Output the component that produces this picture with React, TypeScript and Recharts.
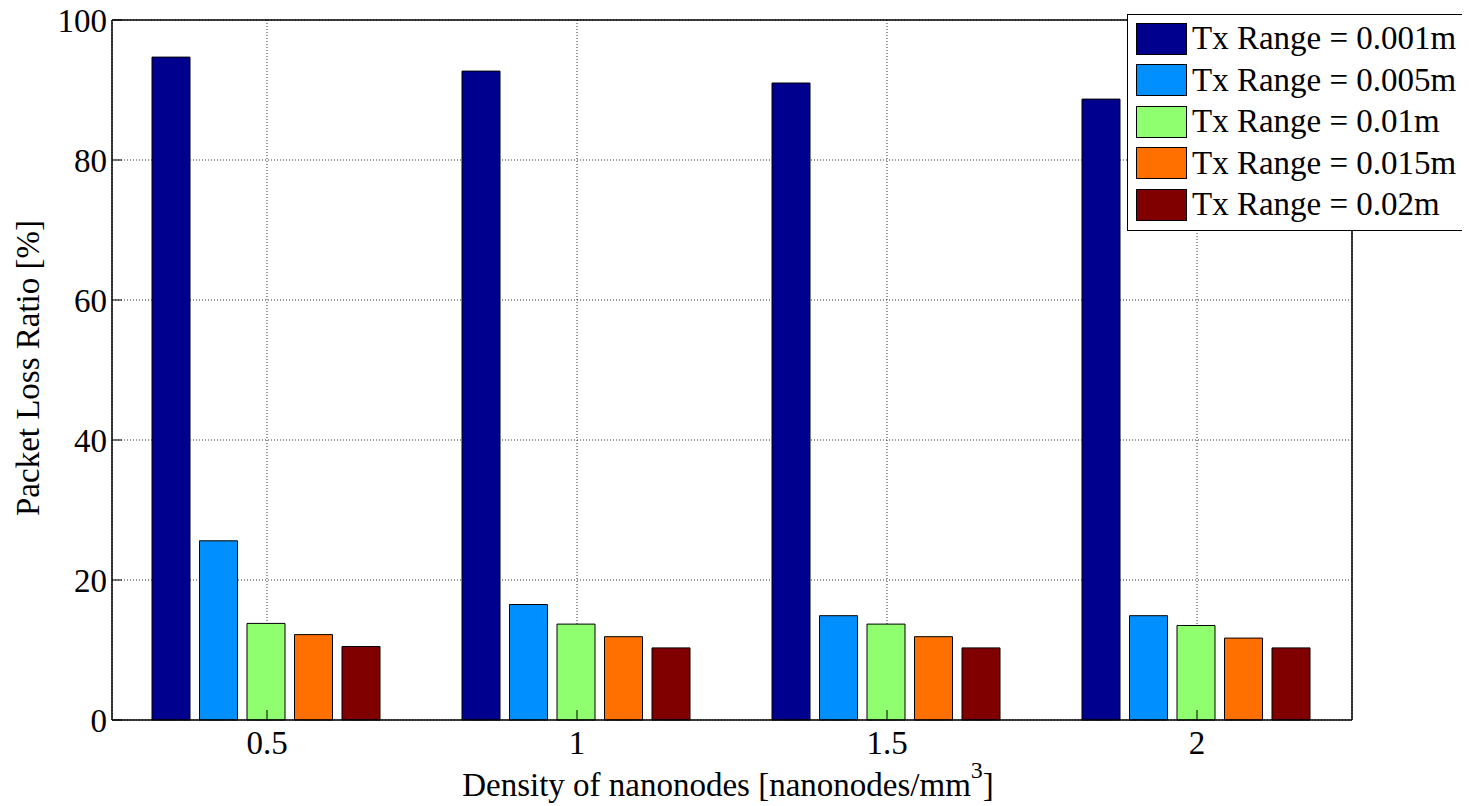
import React from 'react';
import { BarChart, Bar, XAxis, YAxis, CartesianGrid } from 'recharts';

const categories = ['0.5', '1', '1.5', '2'];
const tx001 = [94.7, 92.7, 91.0, 88.7];
const tx005 = [25.6, 16.5, 14.9, 14.9];
const tx01 = [13.8, 13.7, 13.7, 13.5];
const tx015 = [12.2, 11.9, 11.9, 11.7];
const tx02 = [10.5, 10.3, 10.3, 10.3];
const yTicks = [0, 20, 40, 60, 80, 100];

const seriesNames = [
  'Tx Range = 0.001m',
  'Tx Range = 0.005m',
  'Tx Range = 0.01m',
  'Tx Range = 0.015m',
  'Tx Range = 0.02m',
];
const seriesKeys = ['s0', 's1', 's2', 's3', 's4'];
const seriesColors = ['#00008F', '#008FFF', '#8FFF70', '#FF7000', '#800000'];
const seriesValues = [tx001, tx005, tx01, tx015, tx02];

const data = categories.map((c, i) => {
  const row: Record<string, string | number> = { x: c };
  seriesKeys.forEach((k, j) => {
    row[k] = seriesValues[j][i];
  });
  return row;
});

const FONT = 'Liberation Serif, LiberationSerif, DejaVu Serif, Noto Serif, serif';
const tickStyle = { fontSize: 33, fill: '#000', fontFamily: FONT };

const YLabel = (props: any) => {
  const vb = props.viewBox || { x: 0, y: 20, width: 104, height: 700 };
  const cx = 31;
  const cy = vb.y + vb.height / 2 - 2;
  return (
    <text
      x={cx}
      y={cy}
      transform={`rotate(-90, ${cx}, ${cy})`}
      textAnchor="middle"
      fontSize={33}
      fontFamily={FONT}
      fill="#000"
    >
      Packet Loss Ratio [%]
    </text>
  );
};

const XLabel = (props: any) => {
  const vb = props.viewBox || { x: 104, y: 720, width: 1240, height: 86 };
  const cx = vb.x + vb.width / 2 - 4;
  const y = vb.y + 76;
  return (
    <text x={cx} y={y} textAnchor="middle" fontSize={33} fontFamily={FONT} fill="#000">
      Density of nanonodes [nanonodes/mm
      <tspan fontSize={24} dy={-18}>3</tspan>
      <tspan dy={18}>]</tspan>
    </text>
  );
};

export default function App() {
  return (
    <div style={{ position: 'relative', width: 1462, height: 806, background: '#fff', marginTop: -8 }}>
      <BarChart
        width={1462}
        height={806}
        data={data}
        margin={{ top: 19, right: 117, bottom: 0, left: 0 }}
        barCategoryGap={40}
        barGap={9.5}
        style={{ fontFamily: FONT }}
      >
        <CartesianGrid stroke="#333" strokeDasharray="1 2" strokeWidth={1} />
        <XAxis
          dataKey="x"
          type="category"
          height={86}
          axisLine={{ stroke: '#000', strokeWidth: 1.5 }}
          tickLine={{ stroke: '#000', strokeWidth: 1 }}
          tickSize={-10}
          tickMargin={21}
          tick={tickStyle}
          interval={0}
          label={<XLabel />}
        />
        <XAxis
          xAxisId="top"
          dataKey="x"
          type="category"
          orientation="top"
          height={1}
          axisLine={{ stroke: '#000', strokeWidth: 1.5 }}
          tickLine={{ stroke: '#000', strokeWidth: 1 }}
          tickSize={-10}
          tick={false}
          interval={0}
        />
        <YAxis
          domain={[0, 100]}
          ticks={yTicks}
          width={104}
          axisLine={{ stroke: '#000', strokeWidth: 1.5 }}
          tickLine={{ stroke: '#000', strokeWidth: 1 }}
          tickSize={-10}
          tickMargin={15}
          tick={tickStyle}
          interval={0}
          label={<YLabel />}
        />
        <YAxis
          yAxisId="right"
          orientation="right"
          domain={[0, 100]}
          ticks={yTicks}
          width={1}
          axisLine={{ stroke: '#000', strokeWidth: 1.5 }}
          tickLine={{ stroke: '#000', strokeWidth: 1 }}
          tickSize={-10}
          tick={false}
          interval={0}
        />
        {seriesKeys.map((k, j) => (
          <Bar
            key={k}
            dataKey={k}
            name={seriesNames[j]}
            fill={seriesColors[j]}
            stroke="#000"
            strokeWidth={1}
            isAnimationActive={false}
          />
        ))}
      </BarChart>
      <div
        style={{
          position: 'absolute',
          left: 1119,
          top: 14,
          width: 339,
          height: 217,
          boxSizing: 'border-box',
          border: '1.5px solid #000',
          background: '#fff',
          paddingTop: 3,
          fontFamily: FONT,
        }}
      >
        {seriesNames.map((n, j) => (
          <div key={n} style={{ display: 'flex', alignItems: 'center', height: 41.5 }}>
            <div
              style={{
                width: 51,
                height: 32,
                boxSizing: 'border-box',
                border: '1px solid #000',
                background: seriesColors[j],
                marginLeft: 8,
              }}
            />
            <span style={{ marginLeft: 5, fontSize: 33, lineHeight: 1, color: '#000', whiteSpace: 'nowrap' }}>{n}</span>
          </div>
        ))}
      </div>
    </div>
  );
}
